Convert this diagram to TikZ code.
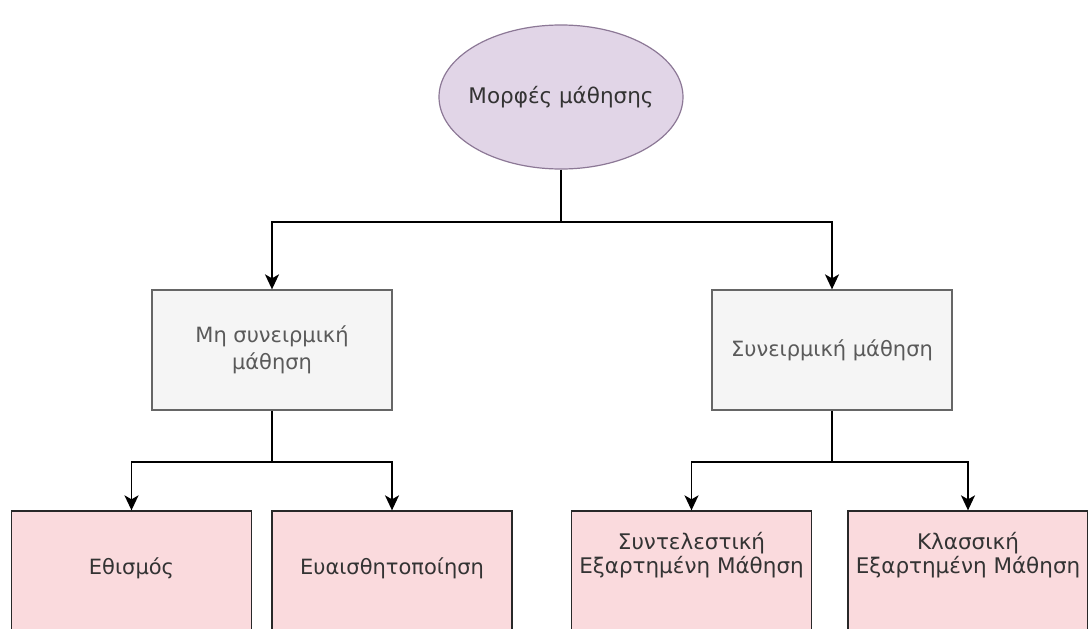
\documentclass[tikz,border=0pt]{standalone}
\usepackage{fontspec}
\setmainfont{DejaVu Sans}
\usetikzlibrary{shapes.geometric,arrows.meta}
\definecolor{ellfill}{RGB}{225,213,231}
\definecolor{elldraw}{RGB}{140,120,150}
\definecolor{grayfill}{RGB}{245,245,245}
\definecolor{graydraw}{RGB}{102,102,102}
\definecolor{pinkfill}{RGB}{250,218,221}
\definecolor{pinkdraw}{RGB}{40,40,40}
\definecolor{txtdark}{RGB}{51,51,51}
\definecolor{txtgray}{RGB}{90,90,90}
\tikzset{
  rootell/.style={ellipse, draw=elldraw, fill=ellfill, line width=1.2pt, minimum width=244pt, minimum height=144pt, inner sep=-10pt, font=\fontsize{21.5}{24}\selectfont, text=txtdark},
  graybox/.style={rectangle, draw=graydraw, fill=grayfill, line width=1.3pt, minimum width=240pt, minimum height=120pt, inner sep=0pt, align=center, font=\fontsize{21}{27}\selectfont, text=txtgray},
  pinkbox/.style={rectangle, draw=pinkdraw, fill=pinkfill, line width=1.3pt, minimum width=240pt, minimum height=120pt, inner sep=0pt},
  pinktext/.style={align=center, font=\fontsize{21}{23}\selectfont, text=txtdark, inner sep=0pt},
  pinktwo/.style={align=center, font=\fontsize{21.5}{23.5}\selectfont, text=txtdark, inner sep=0pt},
  conn/.style={line width=1.8pt, black},
  arr/.style={conn, -{Stealth[length=15pt,width=14pt,inset=4pt]}}
}
\begin{document}
\begin{tikzpicture}[x=1pt,y=-1pt]
\useasboundingbox (0,0) rectangle (1088,629);
\fill[white] (0,0) rectangle (1088,629);
\node[rootell] (root) at (561,97) {Μορφές μάθησης};
\node[graybox] (g1) at (272,350) {Μη συνειρμική\\μάθηση};
\node[graybox] (g2) at (832,350) {Συνειρμική μάθηση};
\node[pinkbox] (p1) at (131.5,571) {};
\node[pinkbox] (p2) at (392,571) {};
\node[pinkbox] (p3) at (691.5,571) {};
\node[pinkbox] (p4) at (968,571) {};
\node[pinktext] (t1) at (131.5,568) {Εθισμός};
\node[pinktext] (t2) at (392,568) {Ευαισθητοποίηση};
\node[pinktwo] (t3) at (691.5,555) {Συντελεστική\\Εξαρτημένη Μάθηση};
\node[pinktwo] (t4) at (968,555) {Κλασσική\\Εξαρτημένη Μάθηση};
\coordinate (j1) at (561,222);
\coordinate (j2) at (272,462);
\coordinate (j3) at (832,462);
\draw[conn] (root.south) -- (j1);
\draw[arr] (j1) -| (g1.north);
\draw[arr] (j1) -| (g2.north);
\draw[conn] (g1.south) -- (j2);
\draw[arr] (j2) -| (p1.north);
\draw[arr] (j2) -| (p2.north);
\draw[conn] (g2.south) -- (j3);
\draw[arr] (j3) -| (p3.north);
\draw[arr] (j3) -| (p4.north);
\end{tikzpicture}
\end{document}
